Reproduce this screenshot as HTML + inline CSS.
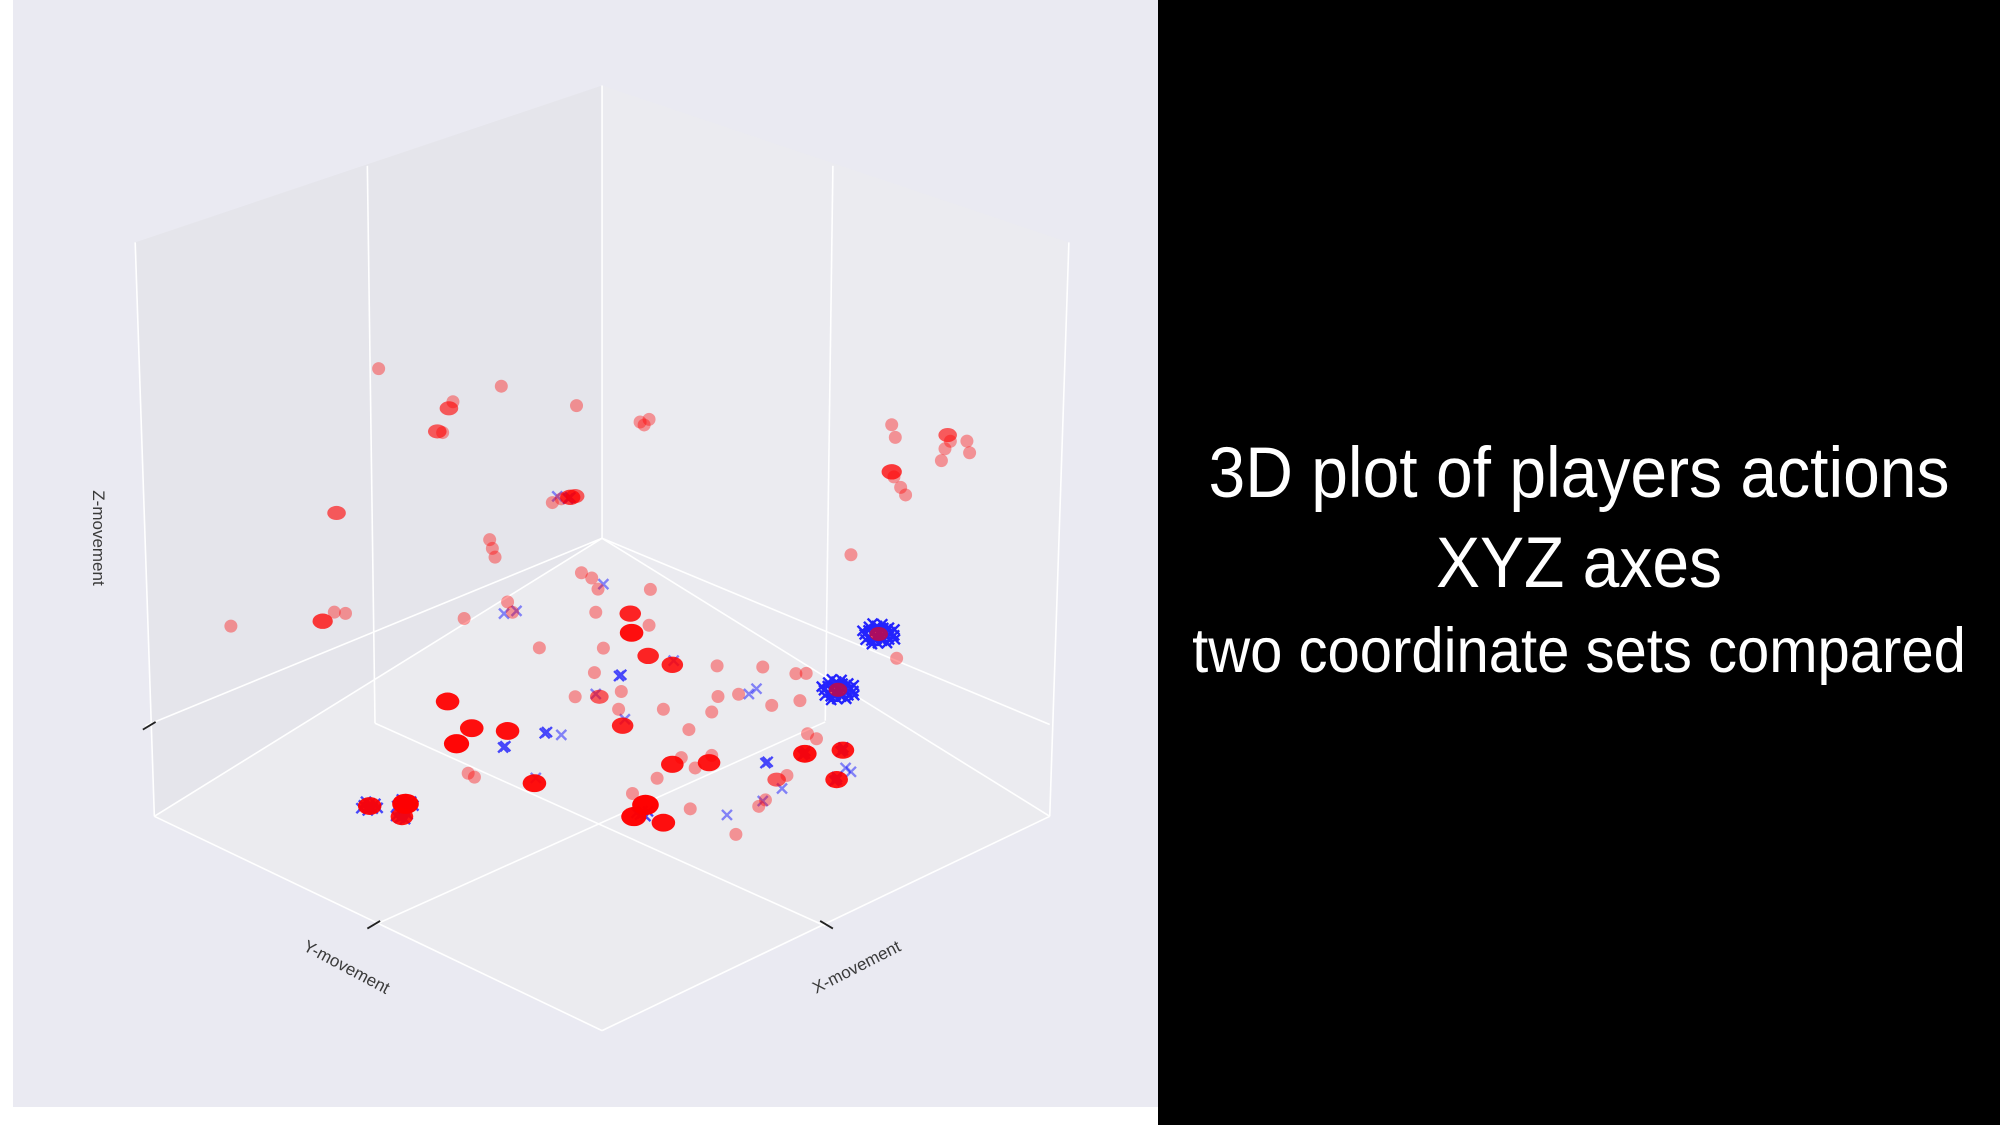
<!DOCTYPE html>
<html><head><meta charset="utf-8"><style>
html,body{margin:0;padding:0;background:#fff;}
svg{display:block;}
</style></head><body>
<svg id="chart" width="2000" height="1125" viewBox="0 0 2000 1125" xmlns="http://www.w3.org/2000/svg">
  <rect x="0" y="0" width="2000" height="1125" fill="#ffffff"/>
  <rect x="13" y="0" width="1145" height="1107" fill="#eaeaf2"/>
  <rect x="1158" y="0" width="842" height="1125" fill="#000000"/>
  <g id="frame"></g>
  <g id="marks"></g>
  <text x="93" y="538" font-family="Liberation Sans, sans-serif" font-size="17" fill="#3a3a3a" text-anchor="middle" transform="rotate(90 93 538)">Z-movement</text>
  <text x="344" y="972" font-family="Liberation Sans, sans-serif" font-size="17" fill="#3a3a3a" text-anchor="middle" transform="rotate(28 344 972)">Y-movement</text>
  <text x="859" y="972" font-family="Liberation Sans, sans-serif" font-size="17" fill="#3a3a3a" text-anchor="middle" transform="rotate(-27 859 972)">X-movement</text>
  <g fill="#ffffff" font-family="Liberation Sans, Arial, sans-serif" text-anchor="middle">
    <text transform="translate(1579 497) scale(1 1.08)" font-size="66">3D plot of players actions</text>
    <text transform="translate(1579 587) scale(1 1.08)" font-size="66">XYZ axes</text>
    <text transform="translate(1579 672) scale(1 1.08)" font-size="58">two coordinate sets compared</text>
  </g>
</svg>
<script>
// Red series (coordinate set A): x, y, z in normalised axis units, n = stacked actions
const redX = [
  0,0,0,0,0, 0,0,0,0,0, 0,0,0,0,0, 0,0,0,0,0,
  .085,.105,.094,.647,.655, .772,.778,.815,.821,.766, .758,.647,.652,.667,.678, .556,.658,.618,
  .009,.033,.039,.060,.087, .167,.203,.263,.306,.199, .127,.121,.196,.241,.207, .365,.233,.255,.282,.297,
  .326,.360,.376,.146,.209, .358,.414,.411,.433,.435, .490,.441,.485,.523,.483, .493,.493,.528,.536,.580,
  .585,.682,.614,.650,.696, .460,.471,.513,.581,.600, .629,.633,.653,.657,.273, .287,.513,.126,.517,.258,
  .222,.277,.536];
const redY = [
  .499,.342,.333,.368,.356, .225,.057,.593,.829,.624, .598,.573,.251,.245,.239, .111,.071,.060,.091,.308,
  0,0,0,0,0, 0,0,0,0,0, 0,0,0,0,0, 0,0,0,
  .220,.233,.085,.083,.096, .104,.137,.160,.149,.196, .267,.466,.487,.452,.532, .516,.250,.315,.288,.254,
  .289,.314,.239,.038,.104, .101,.155,.052,.128,.190, .111,.247,.328,.284,.306, .370,.425,.431,.465,.443,
  .388,.383,.161,.112,.172, .027,.015,.071,.122,.121, .239,.220,.288,.307,.572, .572,.268,.140,.309,.697,
  .741,.724,.009];
const redZ = [
  .681,.497,.506,.462,.452, .474,.328,.420,.315,.200, .204,.186,.151,.128,.105, .147,.134,.130,.143,.012,
  .309,.327,.308,.648,.625, .702,.692,.715,.693,.668, .637,.544,.536,.522,.512, .305,.139,.168,
  0,0,0,0,0, 0,0,0,0,0, 0,0,0,0,0, 0,0,0,0,0,
  0,0,0,0,0, 0,0,0,0,0, 0,0,0,0,0, 0,0,0,0,0,
  0,0,0,0,0, 0,0,0,0,0, 0,0,0,0,0, 0,0,0,0,0,
  0,0,0];
const redN = [
  1,2,1,2,1, 1,1,2,1,3, 1,1,1,1,1, 1,3,2,1,1,
  1,1,1,1,1, 2,1,1,1,1, 1,3,1,1,1, 1,1,2,
  1,1,1,1,1, 4,6,4,4,1, 1,6,6,6,8, 6,1,1,2,1,
  1,4,1,1,1, 1,1,1,1,1, 1,1,5,5,1, 1,1,10,8,6,
  1,1,6,5,5, 1,1,1,1,1, 2,1,1,1,1, 1,1,1,1,10,
  6,5,2];
// Blue series (coordinate set B)
const blueX = [0,0,.084,.267,.300, .273,.287,.308,.266,.357, .026,.035,.444,.443,.637, .587,.652,.651,.685,.698, .351,
  .618,.536,.258,.222,.540, .614,.696,.650,.277];
const blueY = [.100,.071,.081,.224,.140, .287,.410,.399,.482,.505, .245,.226,.116,.098,.358, .217,.293,.249,.141,.142, .300,
  0,.009,.697,.741,.450, .161,.172,.112,.724];
const blueZ = [.154,.134,0,0,0, 0,0,0,0,0, 0,0,0,0,0, 0,0,0,0,0, 0,
  .168,0,0,0,0, 0,0,0,0];
const blueN = [1,2,1,2,1, 1,2,1,2,1, 1,1,1,1,1, 2,1,1,1,1, 1,
  30,30,10,10,6, 3,3,3,6];

const NS = 'http://www.w3.org/2000/svg';
const S = 2000 / 1568;
function px(x, y, z) { return S * (472 + 351 * x - 351 * y); }
function py(x, y, z) { return S * (422 + 218 * x + 218 * y - 355 * z); }
function D(v) { return v * S; }

const frame = document.getElementById('frame');
function poly(pts, fill, name) {
  const p = document.createElementNS(NS, 'polygon');
  p.setAttribute('points', pts.map(q => D(q[0]) + ',' + D(q[1])).join(' '));
  p.setAttribute('fill', fill);
  
  
  frame.appendChild(p);
}
function line(a, b, stroke, w, name) {
  const l = document.createElementNS(NS, 'line');
  l.setAttribute('x1', D(a[0])); l.setAttribute('y1', D(a[1]));
  l.setAttribute('x2', D(b[0])); l.setAttribute('y2', D(b[1]));
  l.setAttribute('stroke', stroke); l.setAttribute('stroke-width', w);
  
  
  frame.appendChild(l);
}
poly([[106,190],[472,67],[472,422],[121,640]], '#e5e5eb', 'left-pane');
poly([[472,67],[838,190],[823,640],[472,422]], '#ebebf0', 'right-pane');
poly([[121,640],[472,422],[823,640],[472,808]], '#ebebef', 'floor-pane');
const W = '#ffffff';
line([106,190],[121,640], W, 1.6, 'left-pane-edge');
line([472,67],[472,422], W, 1.6, 'back-edge');
line([838,190],[823,640], W, 1.6, 'right-pane-edge');
line([121,640],[472,422], W, 1.6, 'floor-back-left-edge');
line([472,422],[823,640], W, 1.6, 'floor-back-right-edge');
line([121,640],[472,808], W, 1.6, 'y-axis-line');
line([472,808],[823,640], W, 1.6, 'x-axis-line');
line([288,130],[294,567], W, 1.6, 'left-pane-gridline');
line([114,569],[472,422], W, 1.6, 'z-gridline-left');
line([472,422],[823,568], W, 1.6, 'z-gridline-right');
line([653,130],[647,565], W, 1.6, 'right-pane-gridline');
line([294,567],[647,726], W, 1.6, 'floor-gridline-y');
line([647,566],[294,725], W, 1.6, 'floor-gridline-x');
line([112,572],[122,566], '#222', 1.8, 'z-tick');
line([288,728],[298,722], '#222', 1.8, 'y-tick');
line([643,722],[653,728], '#222', 1.8, 'x-tick');

const marks = document.getElementById('marks');
for (let i = 0; i < blueX.length; i++) {
  const n = blueN[i];
  const cx = px(blueX[i], blueY[i], blueZ[i]);
  const cy = py(blueX[i], blueY[i], blueZ[i]);
  const g = document.createElementNS(NS, 'path');
  let d = '';
  const spread = n >= 20 ? 3.4 : 3.0;
  for (let k = 0; k < n; k++) {
    const ang = k * 2.39996;
    const rr = n > 1 ? spread * Math.sqrt(k) : 0;
    const x = cx + rr * Math.cos(ang);
    const y = cy + rr * Math.sin(ang) * 0.62;
    const h = 5;
    d += 'M' + (x - h) + ' ' + (y - h) + 'L' + (x + h) + ' ' + (y + h) + 'M' + (x - h) + ' ' + (y + h) + 'L' + (x + h) + ' ' + (y - h);
  }
  g.setAttribute('d', d);
  g.setAttribute('stroke', '#0000ff');
  g.setAttribute('stroke-width', '2.4');
  g.setAttribute('fill', 'none');
  g.setAttribute('stroke-opacity', n >= 20 ? '0.85' : (n > 1 ? '0.7' : '0.45'));
  
  
  marks.appendChild(g);
}
for (let i = 0; i < redX.length; i++) {
  const n = redN[i];
  const c = document.createElementNS(NS, 'ellipse');
  const r = 6.5 + 1.8 * Math.sqrt(n - 1);
  c.setAttribute('cx', px(redX[i], redY[i], redZ[i]));
  c.setAttribute('cy', py(redX[i], redY[i], redZ[i]));
  c.setAttribute('rx', r * (n > 1 ? 1.12 : 1));
  c.setAttribute('ry', r * (n > 1 ? 0.85 : 1));
  c.setAttribute('fill', '#ff0000');
  c.setAttribute('fill-opacity', (1 - Math.pow(0.62, n)).toFixed(3));
  
  
  marks.appendChild(c);
}
</script>
</body></html>
